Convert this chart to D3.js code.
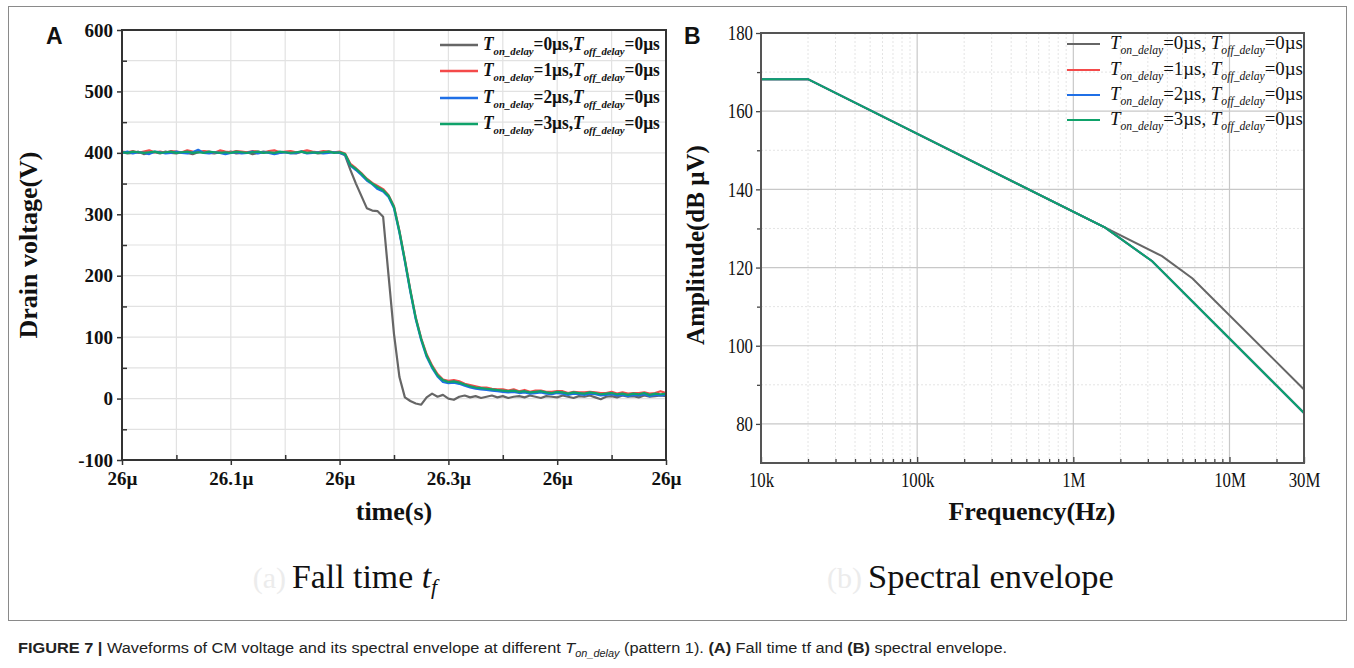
<!DOCTYPE html>
<html>
<head>
<meta charset="utf-8">
<script src="https://cdnjs.cloudflare.com/ajax/libs/d3/7.8.5/d3.min.js"></script>
<style>
body { margin: 0; background: #fff; }
svg { display: block; }
</style>
</head>
<body>
<script>
// ---- panel A: drain voltage waveforms (time offset in ns after 26 µs) ----
var timeNs = [0,5,10,15,20,25,30,35,40,45,50,55,60,65,70,75,80,85,90,95,
    100,105,110,115,120,125,130,135,140,145,150,155,160,165,170,175,180,185,190,195,
    200,205,210,215,220,225,230,235,240,245,250,255,260,265,270,275,280,285,290,295,
    300,305,310,315,320,325,330,335,340,345,350,355,360,365,370,375,380,385,390,395,
    400,405,410,415,420,425,430,435,440,445,450,455,460,465,470,475,480,485,490,495,500];

var vOn0 = [401,399,400,402,398,400,401,399,402,400,399,401,400,398,401,402,400,399,401,400,
    402,399,400,401,398,400,402,401,399,400,401,400,399,402,400,401,399,400,402,401,400,
    396,372,350,330,310,306,305,296,200,105,35,2,-4,-8,-10,2,8,3,6,
    0,-2,3,5,2,4,1,3,5,2,4,1,3,4,2,5,3,1,4,3,
    2,5,3,1,4,3,5,2,-1,3,4,2,5,3,4,2,5,3,4,5,4];
var vOn1 = [402,401,403,400,402,404,401,402,400,403,402,401,404,402,401,403,402,400,404,402,
    401,403,402,401,403,402,400,403,404,401,402,403,401,402,404,402,401,403,402,401,402,
    399,382,375,367,358,351,346,341,331,313,273,226,177,132,98,72,54,40,31,
    29,30,28,24,22,20,18,18,16,15,15,13,15,12,14,11,13,13,11,11,
    12,12,9,11,10,10,11,10,9,9,11,8,10,8,9,9,10,8,9,12,9];
var vOn2 = [400,402,399,401,400,398,402,401,399,400,402,400,399,401,405,400,399,401,400,398,
    400,401,399,400,402,399,401,400,398,400,401,399,400,402,399,400,401,399,400,401,400,
    397,379,372,364,355,349,341,337,328,310,270,223,174,129,95,68,50,36,27,
    25,26,24,21,18,16,15,14,13,12,11,10,11,9,10,8,9,10,8,7,
    9,8,6,8,7,6,8,7,5,6,7,5,6,4,6,5,7,4,6,5,6];
var vOn3 = [401,400,402,401,400,401,402,400,401,402,400,401,402,400,401,400,402,401,400,401,
    400,402,401,400,401,402,400,401,400,402,401,400,401,402,400,401,400,401,402,400,401,
    398,380,374,366,357,350,344,339,330,312,272,225,176,131,97,70,52,38,30,
    27,28,26,23,20,18,17,16,15,14,13,12,13,11,12,10,11,12,10,9,
    11,10,8,10,9,8,10,9,7,8,9,7,8,6,8,7,9,6,8,7,8];

var delays = ["0", "1", "2", "3"];
var lineColors = ["#666666", "#f44a4a", "#1f6fe6", "#0fa26a"];
var yTicksA = [-100, 0, 100, 200, 300, 400, 500, 600];
var xTicksA = [0, 100, 200, 300, 400, 500];
var xTickLabelsA = ["26µ", "26.1µ", "26µ", "26.3µ", "26µ", "26µ"];

// ---- panel B: spectral envelope ----
var freqOn0 = [1e4, 2e4, 1.6e6, 3.7e6, 5.8e6, 3e7];
var ampOn0 = [168.2, 168.2, 130.2, 122.9, 117.2, 88.8];
var freqOn123 = [1e4, 2e4, 1.6e6, 3.2e6, 3e7];
var ampOn123 = [168.2, 168.2, 130.2, 121.6, 82.8];
var xTicksB = [1e4, 1e5, 1e6, 1e7, 3e7];
var xTickLabelsB = ["10k", "100k", "1M", "10M", "30M"];
var yTicksB = [80, 100, 120, 140, 160, 180];

var svg = d3.select("body").append("svg")
    .attr("width", 1354)
    .attr("height", 668);

// figure frame
svg.append("rect")
    .attr("x", 8.5).attr("y", 6.5)
    .attr("width", 1338).attr("height", 614)
    .attr("fill", "none")
    .attr("stroke", "#8a8a8a")
    .attr("stroke-width", 1);

// squeeze a text group horizontally to a given width
function fitText(g, x, y, w) {
    var bb = g.node().getBBox();
    g.attr("transform", "translate(" + x + "," + y + ") scale(" + (w / bb.width) + ",1)");
}

function legendLabel(g, d, opts) {
    var t = g.append("text")
        .attr("font-family", "Liberation Serif")
        .attr("font-weight", opts.bold ? "bold" : "normal")
        .attr("font-size", opts.size)
        .attr("fill", "#111");
    t.append("tspan").attr("font-style", "italic").text("T");
    t.append("tspan").attr("font-style", "italic").attr("font-size", opts.size * 0.62)
        .attr("dy", opts.size * 0.25).text("on_delay");
    t.append("tspan").attr("dy", -opts.size * 0.25).text("=" + d + "µs," + (opts.space ? " " : ""));
    t.append("tspan").attr("font-style", "italic").text("T");
    t.append("tspan").attr("font-style", "italic").attr("font-size", opts.size * 0.62)
        .attr("dy", opts.size * 0.25).text("off_delay");
    t.append("tspan").attr("dy", -opts.size * 0.25).text("=0µs");
}

// ================= panel A =================
var xA = d3.scaleLinear().domain([0, 500]).range([122, 666]);
var yA = d3.scaleLinear().domain([-100, 600]).range([460, 30]);
var gA = svg.append("g");

// grid every 50 ns / 50 V
gA.selectAll(".vgrid").data(d3.range(50, 500, 50)).enter().append("line")
    .attr("x1", d => xA(d)).attr("x2", d => xA(d))
    .attr("y1", yA(-100)).attr("y2", yA(600))
    .attr("stroke", "#e2e2e2").attr("stroke-width", 1.2);
gA.selectAll(".hgrid").data(d3.range(-50, 600, 50)).enter().append("line")
    .attr("x1", xA(0)).attr("x2", xA(500))
    .attr("y1", d => yA(d)).attr("y2", d => yA(d))
    .attr("stroke", "#e2e2e2").attr("stroke-width", 1.2);

var seriesA = [vOn0, vOn1, vOn2, vOn3];
var lineA = d3.line()
    .x((d, i) => xA(timeNs[i]))
    .y(d => yA(d));
gA.selectAll(".wave").data(seriesA).enter().append("path")
    .attr("d", lineA)
    .attr("fill", "none")
    .attr("stroke", (d, i) => lineColors[i])
    .attr("stroke-width", 2.2)
    .attr("stroke-linejoin", "round");

// axes
var axA = gA.append("g").attr("transform", "translate(0," + yA(-100) + ")")
    .call(d3.axisBottom(xA).tickValues(xTicksA).tickSize(5).tickSizeOuter(0)
        .tickFormat((d, i) => xTickLabelsA[i]));
gA.append("g").attr("transform", "translate(0," + yA(-100) + ")")
    .call(d3.axisBottom(xA).tickValues([50, 150, 250, 350, 450]).tickSize(-5).tickFormat(""));
var ayA = gA.append("g").attr("transform", "translate(" + xA(0) + ",0)")
    .call(d3.axisLeft(yA).tickValues(yTicksA).tickSize(5).tickSizeOuter(0)
        .tickFormat(d => String(d)));
gA.append("g").attr("transform", "translate(" + xA(0) + ",0)")
    .call(d3.axisLeft(yA).tickValues(d3.range(-50, 600, 100)).tickSize(-5).tickFormat(""));
gA.selectAll(".domain").remove();
gA.selectAll(".tick line").attr("stroke", "#333").attr("stroke-width", 1.5);
gA.selectAll(".tick text")
    .attr("font-family", "Liberation Serif").attr("font-weight", "bold")
    .attr("font-size", 19).attr("fill", "#111");
axA.selectAll(".tick text").attr("dy", "0.95em").attr("y", 7);
ayA.selectAll(".tick text").attr("x", -9);

gA.append("rect")
    .attr("x", xA(0)).attr("y", yA(600))
    .attr("width", xA(500) - xA(0)).attr("height", yA(-100) - yA(600))
    .attr("fill", "none").attr("stroke", "#333").attr("stroke-width", 2);

gA.append("text")
    .attr("transform", "translate(37,245) rotate(-90)")
    .attr("text-anchor", "middle")
    .attr("font-family", "Liberation Serif").attr("font-weight", "bold")
    .attr("font-size", 26).attr("fill", "#111")
    .text("Drain voltage(V)");
gA.append("text")
    .attr("x", 394).attr("y", 520)
    .attr("text-anchor", "middle")
    .attr("font-family", "Liberation Serif").attr("font-weight", "bold")
    .attr("font-size", 26).attr("fill", "#111")
    .text("time(s)");
svg.append("text")
    .attr("x", 46).attr("y", 44)
    .attr("font-family", "Liberation Sans").attr("font-weight", "bold")
    .attr("font-size", 23).attr("fill", "#111")
    .text("A");

// legend A
var legRowsA = [45, 71, 98, 124];
delays.forEach(function(d, i) {
    gA.append("line")
        .attr("x1", 440).attr("x2", 478)
        .attr("y1", legRowsA[i]).attr("y2", legRowsA[i])
        .attr("stroke", lineColors[i]).attr("stroke-width", 2.5);
    var lg = gA.append("g");
    legendLabel(lg, d, {bold: true, size: 18, space: false});
    fitText(lg, 483, legRowsA[i] + 5, 177);
});

// ================= panel B =================
var xB = d3.scaleLog().domain([1e4, 3e7]).range([761, 1304]);
var yB = d3.scaleLinear().domain([70, 180]).range([463, 33]);
var gB = svg.append("g");

var minorF = [];
[1e4, 1e5, 1e6, 1e7].forEach(function(dec) {
    for (var k = 2; k <= 9; k++) if (dec * k < 3e7) minorF.push(dec * k);
});
gB.selectAll(".vminor").data(minorF).enter().append("line")
    .attr("x1", d => xB(d)).attr("x2", d => xB(d))
    .attr("y1", yB(70)).attr("y2", yB(180))
    .attr("stroke", "#e4e4e4").attr("stroke-dasharray", "2,2");
gB.selectAll(".hminor").data([90, 110, 130, 150, 170]).enter().append("line")
    .attr("x1", xB(1e4)).attr("x2", xB(3e7))
    .attr("y1", d => yB(d)).attr("y2", d => yB(d))
    .attr("stroke", "#e4e4e4").attr("stroke-dasharray", "2,2");
gB.selectAll(".vmajor").data([1e5, 1e6, 1e7]).enter().append("line")
    .attr("x1", d => xB(d)).attr("x2", d => xB(d))
    .attr("y1", yB(70)).attr("y2", yB(180))
    .attr("stroke", "#c8c8c8").attr("stroke-width", 1.2);
gB.selectAll(".hmajor").data([80, 100, 120, 140, 160]).enter().append("line")
    .attr("x1", xB(1e4)).attr("x2", xB(3e7))
    .attr("y1", d => yB(d)).attr("y2", d => yB(d))
    .attr("stroke", "#c8c8c8").attr("stroke-width", 1.2);

var seriesB = [
    {f: freqOn0, a: ampOn0},
    {f: freqOn123, a: ampOn123},
    {f: freqOn123, a: ampOn123},
    {f: freqOn123, a: ampOn123}
];
var lineB = function(s) {
    return d3.line().x((d, i) => xB(s.f[i])).y(d => yB(d))(s.a);
};
gB.selectAll(".env").data(seriesB).enter().append("path")
    .attr("d", lineB)
    .attr("fill", "none")
    .attr("stroke", (d, i) => lineColors[i])
    .attr("stroke-width", 2);

var axB = gB.append("g").attr("transform", "translate(0," + yB(70) + ")")
    .call(d3.axisBottom(xB).tickValues(xTicksB).tickSize(-6).tickSizeOuter(0)
        .tickFormat((d, i) => xTickLabelsB[i]));
gB.append("g").attr("transform", "translate(0," + yB(70) + ")")
    .call(d3.axisBottom(xB).tickValues(minorF).tickSize(-4).tickFormat(""));
var ayB = gB.append("g").attr("transform", "translate(" + xB(1e4) + ",0)")
    .call(d3.axisLeft(yB).tickValues(yTicksB).tickSize(5).tickSizeOuter(0));
gB.append("g").attr("transform", "translate(" + xB(1e4) + ",0)")
    .call(d3.axisLeft(yB).tickValues([90, 110, 130, 150, 170]).tickSize(4).tickFormat(""));
gB.selectAll(".domain").remove();
gB.selectAll(".tick line").attr("stroke", "#444").attr("stroke-width", 1.3);
gB.selectAll(".tick text")
    .attr("font-family", "Liberation Serif")
    .attr("font-size", 21).attr("fill", "#111");
axB.selectAll(".tick text").attr("y", 8).attr("dy", "0.75em")
    .attr("transform", "scale(0.8,1)");
ayB.selectAll(".tick text").attr("x", -10)
    .attr("transform", "scale(0.8,1)");

gB.append("rect")
    .attr("x", xB(1e4)).attr("y", yB(180))
    .attr("width", xB(3e7) - xB(1e4)).attr("height", yB(70) - yB(180))
    .attr("fill", "none").attr("stroke", "#555").attr("stroke-width", 2);

gB.append("text")
    .attr("transform", "translate(704,245) rotate(-90)")
    .attr("text-anchor", "middle")
    .attr("font-family", "Liberation Serif").attr("font-weight", "bold")
    .attr("font-size", 25).attr("fill", "#111")
    .text("Amplitude(dB µV)");
gB.append("text")
    .attr("x", 1032).attr("y", 520)
    .attr("text-anchor", "middle")
    .attr("font-family", "Liberation Serif").attr("font-weight", "bold")
    .attr("font-size", 26).attr("fill", "#111")
    .text("Frequency(Hz)");
svg.append("text")
    .attr("x", 684).attr("y", 44)
    .attr("font-family", "Liberation Sans").attr("font-weight", "bold")
    .attr("font-size", 23).attr("fill", "#111")
    .text("B");

// legend B
var legRowsB = [44, 70, 95, 120];
delays.forEach(function(d, i) {
    gB.append("line")
        .attr("x1", 1067).attr("x2", 1100)
        .attr("y1", legRowsB[i]).attr("y2", legRowsB[i])
        .attr("stroke", lineColors[i]).attr("stroke-width", 2.2);
    var lg = gB.append("g");
    legendLabel(lg, d, {bold: false, size: 19, space: true});
    fitText(lg, 1110, legRowsB[i] + 5, 193);
});

// sub-captions, with the faint panel tag to their left
function subCaption(label, x, y, w, parts) {
    svg.append("text")
        .attr("x", x - 6).attr("y", y)
        .attr("text-anchor", "end")
        .attr("font-family", "Liberation Serif").attr("font-size", 30)
        .attr("fill", "#ececec").text(label);
    var g = svg.append("g");
    var t = g.append("text")
        .attr("font-family", "Liberation Serif").attr("font-size", 34)
        .attr("fill", "#111");
    parts.forEach(function(p) {
        var s = t.append("tspan").text(p.t);
        if (p.italic) s.attr("font-style", "italic");
        if (p.sub) s.attr("font-size", 22).attr("dy", 6);
    });
    fitText(g, x, y, w);
}
subCaption("(a)", 292, 588, 148, [{t: "Fall time "}, {t: "t", italic: true}, {t: "f", italic: true, sub: true}]);
subCaption("(b)", 868, 588, 246, [{t: "Spectral envelope"}]);

// figure caption
var cap = svg.append("g");
var ct = cap.append("text")
    .attr("font-family", "Liberation Sans").attr("font-size", 15).attr("fill", "#222");
ct.append("tspan").attr("font-weight", "bold").text("FIGURE 7 | ");
ct.append("tspan").text("Waveforms of CM voltage and its spectral envelope at different ");
ct.append("tspan").attr("font-style", "italic").text("T");
ct.append("tspan").attr("font-style", "italic").attr("font-size", 10).attr("dy", 4).text("on_delay");
ct.append("tspan").attr("dy", -4).text(" (pattern 1). ");
ct.append("tspan").attr("font-weight", "bold").text("(A)");
ct.append("tspan").text(" Fall time tf and ");
ct.append("tspan").attr("font-weight", "bold").text("(B)");
ct.append("tspan").text(" spectral envelope.");
fitText(cap, 18, 653, 990);
</script>
</body>
</html>
